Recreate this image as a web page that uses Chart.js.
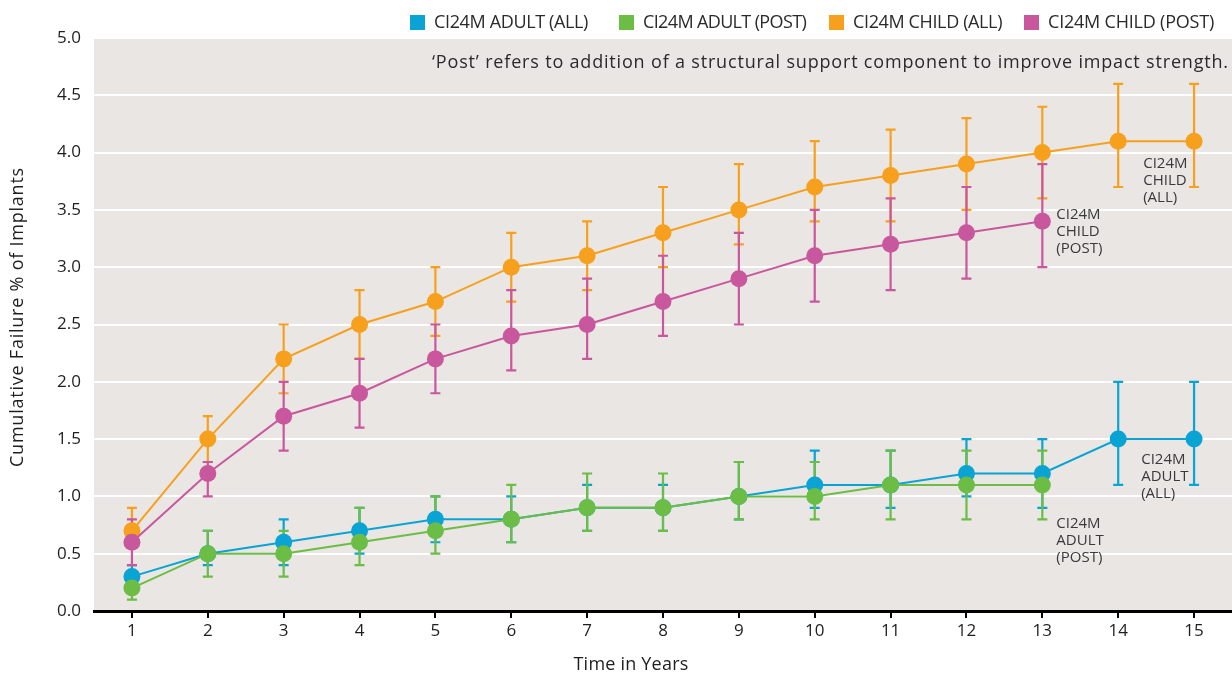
<!DOCTYPE html>
<html><head><meta charset="utf-8">
<script src="https://cdn.jsdelivr.net/npm/chart.js@4.4.1/dist/chart.umd.min.js"></script>
<style>html,body{margin:0;padding:0;background:#fff;}#wrap{width:1232px;height:675px;}</style>
</head><body><div id="wrap"><canvas id="c" width="1232" height="675"></canvas></div>
<script>
const years = ['1','2','3','4','5','6','7','8','9','10','11','12','13','14','15'];
const yTicks = [0,0.5,1,1.5,2,2.5,3,3.5,4,4.5,5];

const seriesNames = ['CI24M ADULT (ALL)','CI24M ADULT (POST)','CI24M CHILD (ALL)','CI24M CHILD (POST)'];
const seriesColors = ['#0AA4D4','#6BBD46','#F7A01D','#C9579D'];

const adultAll     = [0.3,0.5,0.6,0.7,0.8,0.8,0.9,0.9,1.0,1.1,1.1,1.2,1.2,1.5,1.5];
const adultAllLow  = [0.2,0.4,0.4,0.5,0.6,0.6,0.7,0.7,0.8,0.9,0.9,1.0,0.9,1.1,1.1];
const adultAllHigh = [0.4,0.7,0.8,0.9,1.0,1.0,1.1,1.1,1.3,1.4,1.4,1.5,1.5,2.0,2.0];

const adultPost     = [0.2,0.5,0.5,0.6,0.7,0.8,0.9,0.9,1.0,1.0,1.1,1.1,1.1];
const adultPostLow  = [0.1,0.3,0.3,0.4,0.5,0.6,0.7,0.7,0.8,0.8,0.8,0.8,0.8];
const adultPostHigh = [0.3,0.7,0.7,0.9,1.0,1.1,1.2,1.2,1.3,1.3,1.4,1.4,1.4];

const childAll     = [0.7,1.5,2.2,2.5,2.7,3.0,3.1,3.3,3.5,3.7,3.8,3.9,4.0,4.1,4.1];
const childAllLow  = [0.6,1.3,1.9,2.2,2.4,2.7,2.8,3.0,3.2,3.4,3.4,3.5,3.6,3.7,3.7];
const childAllHigh = [0.9,1.7,2.5,2.8,3.0,3.3,3.4,3.7,3.9,4.1,4.2,4.3,4.4,4.6,4.6];

const childPost     = [0.6,1.2,1.7,1.9,2.2,2.4,2.5,2.7,2.9,3.1,3.2,3.3,3.4];
const childPostLow  = [0.4,1.0,1.4,1.6,1.9,2.1,2.2,2.4,2.5,2.7,2.8,2.9,3.0];
const childPostHigh = [0.8,1.3,2.0,2.2,2.5,2.8,2.9,3.1,3.3,3.5,3.6,3.7,3.9];

const noteText = '\u2018Post\u2019 refers to addition of a structural support component to improve impact strength.';
const yTitle = 'Cumulative Failure % of Implants';
const xTitle = 'Time in Years';
const endLabels = [
  {ds:2, idx:13, dx:25, dy:23, lines:['CI24M','CHILD','(ALL)']},
  {ds:3, idx:12, dx:14, dy:-7, lines:['CI24M','CHILD','(POST)']},
  {ds:0, idx:13, dx:23, dy:21, lines:['CI24M','ADULT','(ALL)']},
  {ds:1, idx:12, dx:14, dy:39, lines:['CI24M','ADULT','(POST)']}
];

const FONT = "'Open Sans', sans-serif";
const TEXT = '#1e1e1e';

function mk(i, data, low, high, order){
  return {label:seriesNames[i], data:data, errLow:low, errHigh:high, order:order,
    borderColor:seriesColors[i], backgroundColor:seriesColors[i], borderWidth:2,
    pointRadius:8.5, pointHoverRadius:8.5, pointBorderWidth:0,
    pointBackgroundColor:seriesColors[i], tension:0, fill:false, clip:false};
}

// draw text stretched (via letter spacing) to a target width
function fitText(ctx, text, x, y, width, align){
  const hasLS = ('letterSpacing' in ctx);
  if (hasLS) ctx.letterSpacing = '0px';
  const w0 = ctx.measureText(text).width;
  const n = text.length;
  let sp = (width - w0) / n;
  let startX = align === 'center' ? x - width / 2 : (align === 'right' ? x - width : x);
  ctx.textAlign = 'left';
  if (hasLS) {
    ctx.letterSpacing = sp.toFixed(2) + 'px';
    ctx.fillText(text, startX, y);
    ctx.letterSpacing = '0px';
  } else {
    let cx = startX;
    for (const ch of text){ ctx.fillText(ch, cx, y); cx += ctx.measureText(ch).width + sp; }
  }
}

const bgPlugin = {
  id:'bg',
  beforeDraw(chart){
    const {ctx, chartArea:a} = chart;
    ctx.save(); ctx.fillStyle = '#E9E6E3';
    ctx.fillRect(a.left, a.top, a.right - a.left, a.bottom - a.top);
    ctx.restore();
  }
};

const errPlugin = {
  id:'err',
  beforeDatasetsDraw(chart){
    const ctx = chart.ctx, ys = chart.scales.y;
    chart.data.datasets.forEach((ds, i) => {
      const meta = chart.getDatasetMeta(i);
      ctx.save(); ctx.strokeStyle = ds.borderColor; ctx.lineWidth = 2.2;
      ds.data.forEach((v, j) => {
        const x = meta.data[j].x;
        const y1 = ys.getPixelForValue(ds.errLow[j]);
        const y2 = ys.getPixelForValue(ds.errHigh[j]);
        ctx.beginPath();
        ctx.moveTo(x, y1); ctx.lineTo(x, y2);
        ctx.moveTo(x - 5, y1); ctx.lineTo(x + 5, y1);
        ctx.moveTo(x - 5, y2); ctx.lineTo(x + 5, y2);
        ctx.stroke();
      });
      ctx.restore();
    });
  }
};

const textPlugin = {
  id:'texts',
  afterDraw(chart){
    const ctx = chart.ctx;
    ctx.save();
    ctx.textBaseline = 'middle';
    // legend
    const legX = [410, 619, 829, 1024];
    const legEnd = [588, 806, 1002, 1214];
    ctx.font = '18px ' + FONT;
    chart.data.datasets.forEach((ds, i) => {
      ctx.fillStyle = ds.borderColor;
      ctx.fillRect(legX[i], 15, 15, 15);
      ctx.fillStyle = '#2a2a2a';
      const tx = legX[i] + 24;
      fitText(ctx, ds.label, tx, 23, legEnd[i] - tx, 'left');
    });
    // note
    ctx.font = '18px ' + FONT; ctx.fillStyle = '#2a2a2a';
    fitText(ctx, noteText, 432, 63, 797, 'left');
    // end labels
    ctx.font = '15px ' + FONT; ctx.fillStyle = '#3a3a3a';
    if ('letterSpacing' in ctx) ctx.letterSpacing = '0px';
    ctx.textAlign = 'left';
    endLabels.forEach(l => {
      const p = chart.getDatasetMeta(l.ds).data[l.idx];
      l.lines.forEach((t, k) => ctx.fillText(t, p.x + l.dx, p.y + l.dy + k * 17));
    });
    // x title
    ctx.font = '18px ' + FONT; ctx.fillStyle = TEXT;
    fitText(ctx, xTitle, 631, 665, 115, 'center');
    // y title
    ctx.translate(18, 317); ctx.rotate(-Math.PI / 2);
    fitText(ctx, yTitle, 0, 0, 300, 'center');
    ctx.restore();
  }
};

new Chart(document.getElementById('c'), {
  type:'line',
  data:{
    labels:years,
    datasets:[
      mk(0, adultAll, adultAllLow, adultAllHigh, 3),
      mk(1, adultPost, adultPostLow, adultPostHigh, 2),
      mk(2, childAll, childAllLow, childAllHigh, 1),
      mk(3, childPost, childPostLow, childPostHigh, 0)
    ]
  },
  options:{
    responsive:false, animation:false, devicePixelRatio:1,
    layout:{autoPadding:false, padding:{top:38, left:0, right:0, bottom:0}},
    plugins:{legend:{display:false}, tooltip:{enabled:false}},
    scales:{
      x:{
        type:'category', offset:true,
        grid:{drawOnChartArea:false, drawTicks:true, tickLength:7, color:'#000', lineWidth:2},
        border:{display:true, color:'#000', width:3},
        ticks:{font:{family:FONT, size:17}, color:TEXT, padding:3, maxRotation:0, autoSkip:false},
        afterFit(s){ s.height = 64; s.paddingLeft = 0; s.paddingRight = 0; }
      },
      y:{
        min:0, max:5,
        afterBuildTicks(s){ s.ticks = yTicks.map(v => ({value:v})); },
        ticks:{font:{family:FONT, size:17}, color:TEXT, padding:13, callback:v => Number(v).toFixed(1)},
        grid:{color:'#fff', lineWidth:2, drawTicks:false},
        border:{display:false},
        title:{display:false},
        afterFit(s){ s.width = 94; }
      }
    }
  },
  plugins:[bgPlugin, errPlugin, textPlugin]
});
</script>
</body></html>
